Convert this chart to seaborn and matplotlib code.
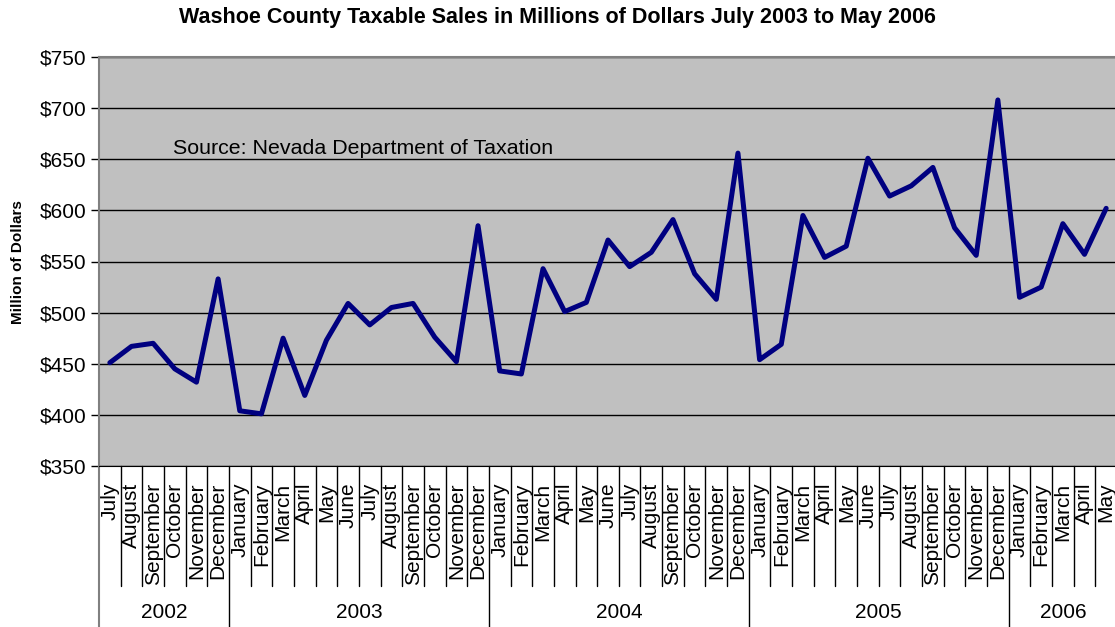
import numpy as np
import pandas as pd
import matplotlib
matplotlib.use("Agg")
import matplotlib.pyplot as plt
import matplotlib.transforms as mtransforms
import seaborn as sns

months = ["July", "August", "September", "October", "November", "December",
          "January", "February", "March", "April", "May", "June",
          "July", "August", "September", "October", "November", "December",
          "January", "February", "March", "April", "May", "June",
          "July", "August", "September", "October", "November", "December",
          "January", "February", "March", "April", "May", "June",
          "July", "August", "September", "October", "November", "December",
          "January", "February", "March", "April", "May"]
years = [2002] * 6 + [2003] * 12 + [2004] * 12 + [2005] * 12 + [2006] * 5
sales = [451, 467, 470, 445, 432, 533,
         404, 401, 475, 419, 473, 509, 488, 505, 509, 476, 452, 585,
         443, 440, 543, 501, 510, 571, 545, 559, 591, 538, 513, 656,
         454, 469, 595, 554, 565, 651, 614, 624, 642, 583, 556, 708,
         515, 525, 587, 557, 602]
yticks = [350, 400, 450, 500, 550, 600, 650, 700, 750]

sns.set_style("white")
plt.rcParams['font.family'] = ['Liberation Sans', 'DejaVu Sans']
plt.rcParams['text.color'] = 'black'
plt.rcParams['xtick.color'] = 'black'
plt.rcParams['ytick.color'] = 'black'
plt.rcParams['axes.labelcolor'] = 'black'

W, H = 1115, 627
fig = plt.figure(figsize=(W / 100, H / 100), dpi=100)
ax = fig.add_axes([99 / W, 1 - 466 / H, (1117 - 99) / W, 409 / H])
ax.set_facecolor('#C0C0C0')

df = pd.DataFrame({'idx': np.arange(len(sales)), 'sales': sales})
sns.lineplot(data=df, x='idx', y='sales', color='#000080', linewidth=3.6,
             ax=ax, zorder=3)

ax.set_xlim(-0.5, len(sales) - 0.5)
ax.set_ylim(yticks[0], yticks[-1])
ax.set_yticks(yticks)
ax.set_yticklabels([f"${v}" for v in yticks], fontsize=15)
ax.yaxis.grid(True, color='black', linewidth=1)
ax.set_axisbelow(True)
ax.tick_params(axis='y', length=6, width=1, color='black', pad=3, left=True)

ax.set_xticks(df['idx'])
ax.set_xticklabels(months, rotation=90, fontsize=15)
ax.tick_params(axis='x', length=0, pad=12)
ax.set_xlabel("")
ax.set_ylabel("Million of Dollars", fontsize=11, fontweight='bold')
ax.yaxis.set_label_coords((25 - 99) / 1018, (466 - 262) / 409)

for s in ['top', 'left']:
    ax.spines[s].set_color('#808080')
    ax.spines[s].set_linewidth(1.5)
ax.spines['bottom'].set_color('black')
ax.spines['right'].set_visible(False)

trans = mtransforms.blended_transform_factory(ax.transData, ax.transAxes)
n = len(sales)
month_bottom = (466 - 586) / 409
fig_bottom = -466 / 409
for b in range(n + 1):
    xb = b - 0.5
    is_year = b == 0 or b == n or years[b] != years[b - 1]
    y0 = fig_bottom if is_year else month_bottom
    ax.plot([xb, xb], [0, y0], transform=trans, color='#808080' if b == 0 else 'black',
            lw=1.5 if b == 0 else 1, clip_on=False)

for yr in sorted(set(years)):
    idxs = [i for i, y in enumerate(years) if y == yr]
    xc = (idxs[0] + idxs[-1]) / 2
    ax.text(xc, (466 - 612) / 409, str(yr), transform=trans, ha='center',
            va='center', fontsize=15)

ax.text((173 - 99) / 1018, (466 - 148) / 409, "Source: Nevada Department of Taxation",
        transform=ax.transAxes, ha='left', va='center', fontsize=15.4)

fig.text(557 / W, 1 - 18 / H,
         "Washoe County Taxable Sales in Millions of Dollars July 2003 to May 2006",
         ha='center', va='center', fontsize=15.5, fontweight='bold')

fig.savefig('out.png', dpi=100)
